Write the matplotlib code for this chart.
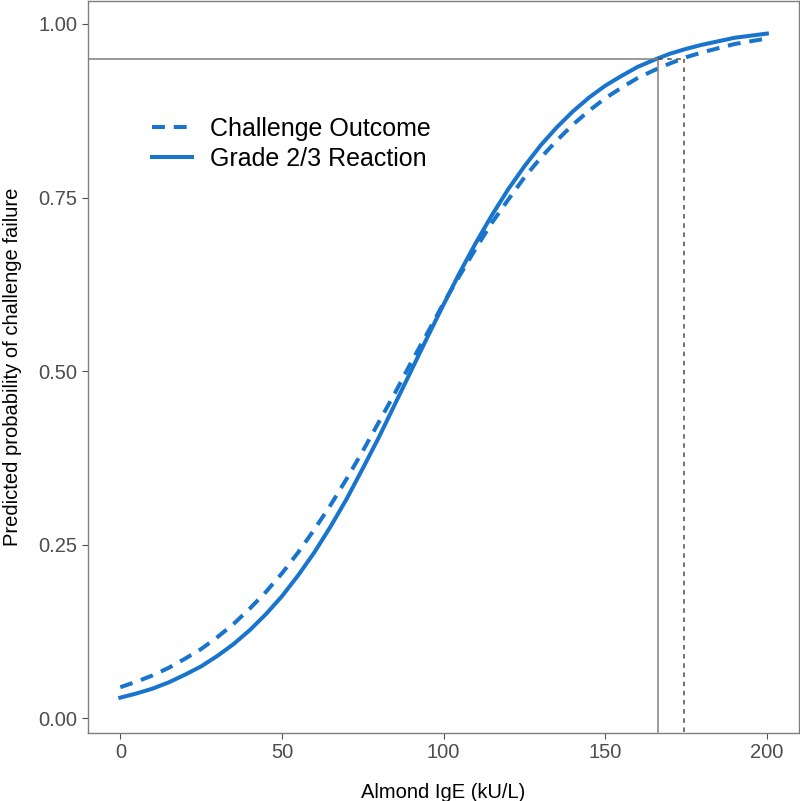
import matplotlib
matplotlib.use("Agg")
import matplotlib.pyplot as plt

plt.rcParams["font.family"] = ["Liberation Sans", "DejaVu Sans"]

# Almond IgE (kU/L)
ige = list(range(0, 201, 5))

# predicted probabilities
challenge_outcome = [
    0.045, 0.053, 0.062, 0.073, 0.086, 0.100, 0.117, 0.136, 0.158, 0.182,
    0.209, 0.239, 0.272, 0.307, 0.345, 0.385, 0.427, 0.469, 0.513, 0.555,
    0.598, 0.638, 0.677, 0.714, 0.747, 0.779, 0.807, 0.832, 0.855, 0.875,
    0.893, 0.908, 0.922, 0.933, 0.943, 0.952, 0.959, 0.965, 0.971, 0.975,
    0.979,
]
grade_reaction = [
    0.030, 0.036, 0.043, 0.052, 0.063, 0.075, 0.090, 0.107, 0.127, 0.150,
    0.176, 0.206, 0.239, 0.276, 0.316, 0.360, 0.405, 0.453, 0.501, 0.549,
    0.596, 0.642, 0.685, 0.725, 0.762, 0.795, 0.825, 0.851, 0.874, 0.894,
    0.911, 0.925, 0.938, 0.948, 0.957, 0.964, 0.970, 0.975, 0.980, 0.983,
    0.986,
]

threshold = 0.95
cut_grade = 166.3
cut_challenge = 174.3

blue = "#1874CD"
grey = "#4D4D4D"

fig = plt.figure(figsize=(8, 8.01), dpi=100)
ax = fig.add_axes([0.11, 0.085, 0.889, 0.9138])

ax.plot(ige, challenge_outcome, color=blue, lw=2.9, ls=(0, (3.2, 2.2)),
        label="Challenge Outcome")
ax.plot(ige, grade_reaction, color=blue, lw=2.9, label="Grade 2/3 Reaction")

ax.plot([-10, cut_grade], [threshold, threshold], color="#7F7F7F", lw=1.1)
ax.plot([cut_grade, cut_grade], [-0.02, threshold], color="#7F7F7F", lw=1.1)
ax.plot([cut_grade, cut_challenge], [threshold, threshold], color=grey,
        lw=1.1, ls=(0, (3, 3)))
ax.plot([cut_challenge, cut_challenge], [-0.02, threshold], color=grey,
        lw=1.1, ls=(0, (3, 3)))

ax.set_xlim(-10, 210)
ax.set_ylim(-0.0208, 1.033)
ax.set_xticks([0, 50, 100, 150, 200])
ax.set_yticks([0, 0.25, 0.5, 0.75, 1.0])
ax.set_yticklabels(["0.00", "0.25", "0.50", "0.75", "1.00"])
ax.tick_params(colors=grey, labelsize=14.5, length=4, width=0.8, pad=3.5)
for side in ax.spines.values():
    side.set_color("#7F7F7F")
    side.set_linewidth(1.0)

ax.set_xlabel("Almond IgE (kU/L)", fontsize=14.5, labelpad=15)
ax.set_ylabel("Predicted probability of challenge failure", fontsize=14.5,
              labelpad=12)

ax.legend(loc="center left", bbox_to_anchor=(0.09, 0.805), frameon=False,
          fontsize=18, borderpad=0, borderaxespad=0, handlelength=1.6,
          handletextpad=0.7, labelspacing=0.25)

fig.savefig("out.png", dpi=100)
